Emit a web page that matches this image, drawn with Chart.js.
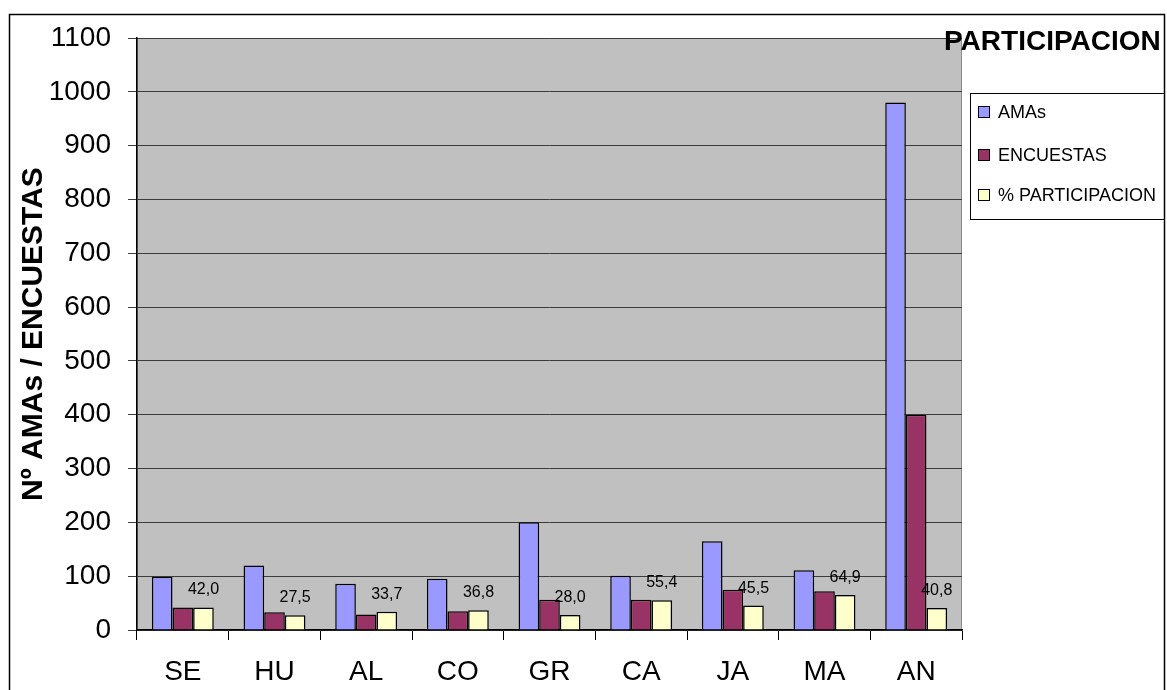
<!DOCTYPE html>
<html>
<head>
<meta charset="utf-8">
<title>PARTICIPACION</title>
<script src="https://cdn.jsdelivr.net/npm/chart.js@4/dist/chart.umd.min.js"></script>
<style>
  html, body { margin: 0; padding: 0; background: #ffffff; }
  #wrap { width: 1167px; height: 690px; }
</style>
</head>
<body>
<div id="wrap"><canvas id="chart" width="1167" height="690"></canvas></div>
<script>
const categories = ['SE', 'HU', 'AL', 'CO', 'GR', 'CA', 'JA', 'MA', 'AN'];
const amas = [99, 120, 86, 95, 200, 101, 165, 111, 980];
const encuestas = [42, 33, 29, 35, 56, 56, 75, 72, 400];
const participacion = [42.0, 27.5, 33.7, 36.8, 28.0, 55.4, 45.5, 64.9, 40.8];
const yTicks = [0, 100, 200, 300, 400, 500, 600, 700, 800, 900, 1000, 1100];

const FONT = '"Liberation Sans", Arial, sans-serif';

// fondo gris del area de trazado
const plotBackground = {
    id: 'plotBackground',
    beforeDraw(chart) {
        const { ctx, chartArea: a } = chart;
        ctx.save();
        ctx.fillStyle = '#c0c0c0';
        ctx.fillRect(a.left, a.top, a.right - a.left, a.bottom - a.top);
        ctx.strokeStyle = '#8c8c8c';
        ctx.lineWidth = 1;
        ctx.strokeRect(a.left + 0.5, a.top + 0.5, a.right - a.left - 1, a.bottom - a.top - 1);
        ctx.restore();
    }
};

// marco, titulo, leyenda y etiquetas de datos
const decorations = {
    id: 'decorations',
    afterDraw(chart) {
        const ctx = chart.ctx;
        ctx.save();

        // etiquetas de % participacion
        const meta = chart.getDatasetMeta(2);
        ctx.fillStyle = '#000000';
        ctx.font = '16px ' + FONT;
        ctx.textAlign = 'center';
        ctx.textBaseline = 'alphabetic';
        meta.data.forEach((bar, i) => {
            const txt = participacion[i].toFixed(1).replace('.', ',');
            ctx.fillText(txt, bar.x, bar.y - 13);
        });

        // titulo
        ctx.font = 'bold 28px ' + FONT;
        ctx.textAlign = 'left';
        ctx.fillText('PARTICIPACION', 944, 50);

        // leyenda
        ctx.fillStyle = '#ffffff';
        ctx.fillRect(970.5, 93.5, 194, 126);
        ctx.strokeStyle = '#000000';
        ctx.lineWidth = 1;
        ctx.strokeRect(970.5, 93.5, 194, 126);
        const rows = [112, 155, 195];
        ctx.font = '18px ' + FONT;
        ctx.textBaseline = 'middle';
        chart.data.datasets.forEach((ds, i) => {
            const y = rows[i];
            ctx.fillStyle = ds.backgroundColor;
            ctx.fillRect(978.5, y - 5.5, 11, 11);
            ctx.strokeStyle = '#000000';
            ctx.strokeRect(978.5, y - 5.5, 11, 11);
            ctx.fillStyle = '#000000';
            ctx.fillText(ds.label, 998, y + 1);
        });

        // marco exterior
        ctx.strokeStyle = '#000000';
        ctx.lineWidth = 1.5;
        ctx.strokeRect(9.5, 14.5, 1155, 700);

        ctx.restore();
    }
};

new Chart(document.getElementById('chart'), {
    type: 'bar',
    data: {
        labels: categories,
        datasets: [
            { label: 'AMAs', data: amas, backgroundColor: '#9999ff' },
            { label: 'ENCUESTAS', data: encuestas, backgroundColor: '#993366' },
            { label: '% PARTICIPACION', data: participacion, backgroundColor: '#ffffcc' }
        ]
    },
    options: {
        responsive: false,
        animation: false,
        devicePixelRatio: 1,
        layout: { padding: { left: 0, top: 38, right: 205, bottom: 0 } },
        datasets: {
            bar: {
                borderColor: '#000000',
                borderWidth: 1.5,
                categoryPercentage: 0.675,
                barPercentage: 1
            }
        },
        plugins: {
            legend: { display: false },
            tooltip: { enabled: false },
            title: { display: false }
        },
        scales: {
            x: {
                offset: true,
                afterFit(scale) { scale.height = 60; },
                grid: {
                    drawOnChartArea: false,
                    drawTicks: true,
                    tickLength: 10,
                    color: '#000000',
                    offset: true
                },
                border: { display: true, color: '#000000', width: 1.5 },
                ticks: {
                    color: '#000000',
                    font: { family: FONT, size: 28 },
                    padding: 15,
                    maxRotation: 0
                }
            },
            y: {
                min: 0,
                max: 1100,
                afterFit(scale) { scale.width = 137; },
                afterBuildTicks(scale) { scale.ticks = yTicks.map(v => ({ value: v })); },
                grid: {
                    color: '#3c3c3c',
                    lineWidth: 1,
                    tickLength: 9,
                    drawTicks: true
                },
                border: { display: true, color: '#000000', width: 1.5 },
                ticks: {
                    color: '#000000',
                    font: { family: FONT, size: 28 },
                    padding: 17,
                    callback: v => String(v)
                },
                title: {
                    display: true,
                    text: 'Nº AMAs / ENCUESTAS',
                    color: '#000000',
                    font: { family: FONT, size: 30, weight: 'bold' },
                    padding: { top: 16, bottom: 0 }
                }
            }
        }
    },
    plugins: [plotBackground, decorations]
});
</script>
</body>
</html>
